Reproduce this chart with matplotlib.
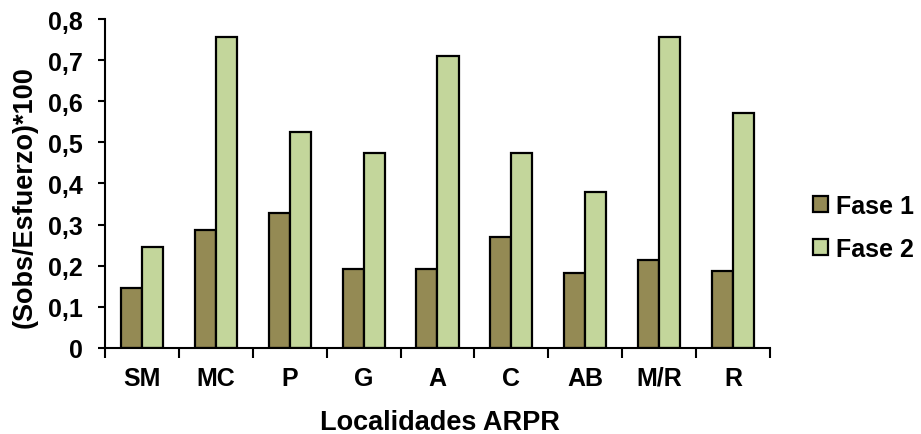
import numpy as np
import matplotlib.pyplot as plt
from matplotlib.ticker import FuncFormatter

# Data
localidades = ["SM", "MC", "P", "G", "A", "C", "AB", "M/R", "R"]
fase1 = [0.146, 0.287, 0.328, 0.193, 0.193, 0.270, 0.182, 0.213, 0.187]
fase2 = [0.245, 0.757, 0.525, 0.473, 0.710, 0.473, 0.380, 0.757, 0.572]

plt.rcParams["font.family"] = ["Liberation Sans", "DejaVu Sans"]
plt.rcParams["font.weight"] = "bold"

fig = plt.figure(figsize=(9.21, 4.35), dpi=100)
ax = fig.add_axes([0.114, 0.198, 0.722, 0.756])

x = np.arange(len(localidades))
w = 0.285
ax.bar(x - w / 2, fase1, w, color="#948A54", edgecolor="black", linewidth=1.6, label="Fase 1")
ax.bar(x + w / 2, fase2, w, color="#C3D69B", edgecolor="black", linewidth=1.6, label="Fase 2")

ax.set_xlim(-0.5, len(localidades) - 0.5)
ax.set_ylim(0, 0.8)
ax.set_yticks(np.arange(0, 0.81, 0.1))
ax.yaxis.set_major_formatter(FuncFormatter(lambda v, p: "0" if abs(v) < 1e-9 else f"{v:.1f}".replace(".", ",")))

# category labels centred, ticks on the boundaries
ax.set_xticks(x)
ax.set_xticklabels(localidades)
ax.set_xticks(np.arange(-0.5, len(localidades)), minor=True)
ax.tick_params(axis="x", which="major", length=0, pad=13, labelsize=18)
ax.tick_params(axis="x", which="minor", length=7, width=1.5, direction="out")
ax.tick_params(axis="y", length=5, width=1.5, direction="out", labelsize=18, pad=11)

for s in ["top", "right"]:
    ax.spines[s].set_visible(False)
for s in ["left", "bottom"]:
    ax.spines[s].set_linewidth(1.5)

fig.text(440 / 921, 1 - 430 / 435, "Localidades ARPR", fontsize=19.5, fontweight="bold",
         ha="center", va="baseline")
fig.text(25 / 921, 1 - 197 / 435, "(Sobs/Esfuerzo)*100", fontsize=19.5, fontweight="bold",
         rotation=90, ha="center", va="center")

leg = fig.legend(loc="center left", bbox_to_anchor=(0.858, 0.475), frameon=False,
                 fontsize=18, handlelength=0.6, handleheight=0.6, handletextpad=0.35,
                 labelspacing=0.75)

plt.savefig("out.png", dpi=100)
